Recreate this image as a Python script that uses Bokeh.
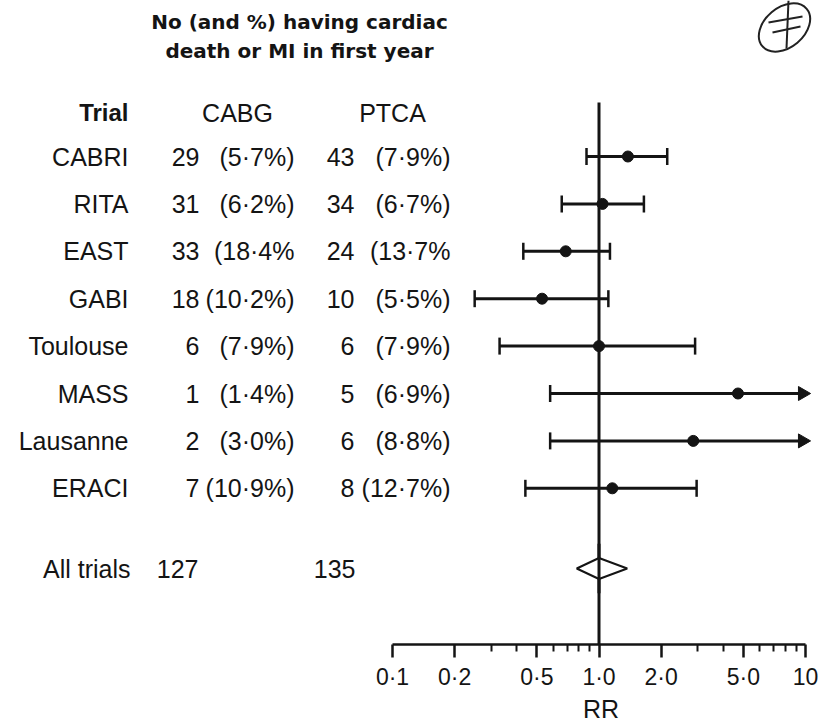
import numpy as np
from bokeh.plotting import figure
from bokeh.models import Range1d, LinearScale, FixedTicker, Title
from bokeh.core.properties import value
from bokeh.embed import file_html
from bokeh.resources import INLINE

# ---- data ----------------------------------------------------------------
trials = ["CABRI", "RITA", "EAST", "GABI", "Toulouse", "MASS", "Lausanne", "ERACI"]
cabg_n = [29, 31, 33, 18, 6, 1, 2, 7]
cabg_pct = ["(5·7%)", "(6·2%)", "(18·4%", "(10·2%)", "(7·9%)", "(1·4%)", "(3·0%)", "(10·9%)"]
ptca_n = [43, 34, 24, 10, 6, 5, 6, 8]
ptca_pct = ["(7·9%)", "(6·7%)", "(13·7%", "(5·5%)", "(7·9%)", "(6·9%)", "(8·8%)", "(12·7%)"]

# relative risk and 95% CI (upper limit off the scale for MASS and Lausanne)
rr = [1.38, 1.04, 0.69, 0.53, 1.00, 4.71, 2.86, 1.16]
rr_lo = [0.87, 0.66, 0.43, 0.25, 0.33, 0.58, 0.58, 0.44]
rr_hi = [2.14, 1.65, 1.13, 1.11, 2.92, np.inf, np.inf, 2.97]

all_label = "All trials"
all_cabg = 127
all_ptca = 135
pooled_rr = 1.00
pooled_lo = 0.78
pooled_hi = 1.37

tick_values = [0.1, 0.2, 0.5, 1, 2, 5, 10]
tick_labels = ["0·1", "0·2", "0·5", "1·0", "2·0", "5·0", "10"]
minor_values = [0.3, 0.4, 0.6, 0.7, 0.8, 0.9, 3, 4, 6, 7, 8, 9]

# ---- layout ---------------------------------------------------------------
W, H = 819, 725
FRAME_H = 644            # axis line sits at the bottom of the frame
X01, X10 = 392, 805      # pixel positions of RR = 0.1 and RR = 10
decade = (X10 - X01) / 2.0
row_top, row_step = 156.0, 47.4   # pixel centre of first row and row spacing

x_start = 0.1 * 10 ** (-X01 / decade)
x_end = 10 * 10 ** ((W - X10) / decade)
y_start = 1 + (FRAME_H - row_top) / row_step
y_end = 1 - row_top / row_step

ink = "#141414"
FONT_NAME = "Liberation Sans"
FONT = value(FONT_NAME)

p = figure(width=W, height=H, x_axis_type="log",
           x_range=Range1d(x_start, x_end), y_range=Range1d(y_start, y_end),
           output_backend="svg", toolbar_location=None,
           y_axis_location=None, min_border_left=0, min_border_right=0,
           min_border_top=0, min_border_bottom=H - FRAME_H)
p.extra_x_ranges = {"tab": Range1d(0, W)}
p.extra_x_scales = {"tab": LinearScale()}
p.extra_y_ranges = {"px": Range1d(FRAME_H, 0)}
p.extra_y_scales = {"px": LinearScale()}
p.outline_line_color = None
p.xgrid.visible = False
p.ygrid.visible = False
p.background_fill_color = "white"
p.border_fill_color = "white"

rows = np.arange(1, len(trials) + 1)
all_row = 1 + (568 - row_top) / row_step

# ---- text table -------------------------------------------------------------
def col_text(x, y, texts, align="right", size="25px", style="normal",
             font=FONT, xr="tab", yr="default"):
    p.text(x=[x] * len(texts), y=y, text=texts, text_align=align,
           text_baseline="middle", text_font=font, text_font_size=size,
           text_font_style=style, text_color=ink,
           x_range_name=xr, y_range_name=yr)

# title
col_text(299, [21, 50], ["No (and %) having cardiac", "death or MI in first year"],
         align="center", size="20px", style="bold", font=value("DejaVu Sans"),
         yr="px")
# headers
col_text(128, [112], ["Trial"], size="24px", style="bold", yr="px")
col_text(237, [112], ["CABG"], align="center", yr="px")
col_text(392, [112], ["PTCA"], align="center", yr="px")

col_text(128, rows, trials)
col_text(199, rows, [str(v) for v in cabg_n])
col_text(294, rows, cabg_pct)
col_text(354, rows, [str(v) for v in ptca_n])
col_text(450, rows, ptca_pct)

col_text(130, [all_row], [all_label])
col_text(198, [all_row], [str(all_cabg)])
col_text(355, [all_row], [str(all_ptca)])

# ---- forest plot ------------------------------------------------------------
# line of no effect
p.segment(x0=[1], x1=[1], y0=[1 + (102 - row_top) / row_step], y1=[y_start],
          line_color=ink, line_width=3)

arrow_x = 10 * 10 ** (-3 / decade)   # arrow head centre just past RR = 10
hi_arr = np.array(rr_hi, dtype=float)
open_end = ~np.isfinite(hi_arr)
hi_draw = np.where(open_end, arrow_x, hi_arr)

p.segment(x0=rr_lo, x1=hi_draw, y0=rows, y1=rows, line_color=ink, line_width=3)

cap = 8.5 / row_step
p.segment(x0=rr_lo, x1=rr_lo, y0=rows - cap, y1=rows + cap,
          line_color=ink, line_width=2.5)
closed = ~open_end
p.segment(x0=hi_arr[closed], x1=hi_arr[closed], y0=rows[closed] - cap,
          y1=rows[closed] + cap, line_color=ink, line_width=2.5)

p.scatter(x=rr, y=rows, size=11, marker="circle", fill_color=ink, line_color=ink)

p.scatter(x=[arrow_x] * int(open_end.sum()), y=rows[open_end], marker="triangle",
          size=14, angle=-np.pi / 2, fill_color=ink, line_color=ink)

# pooled estimate diamond
dh = 10.5 / row_step
p.patch(x=[pooled_lo, pooled_rr, pooled_hi, pooled_rr],
        y=[all_row, all_row - dh, all_row, all_row + dh],
        fill_color="white", line_color=ink, line_width=2)
p.segment(x0=[1], x1=[1], y0=[all_row - dh - 0.3], y1=[all_row + dh + 0.3],
          line_color=ink, line_width=3)

# ---- axis -------------------------------------------------------------------
ax = p.xaxis[0]
ax.ticker = FixedTicker(ticks=tick_values, minor_ticks=minor_values)
ax.major_label_overrides = {v: s for v, s in zip(tick_values, tick_labels)}
ax.bounds = (tick_values[0], tick_values[-1])
ax.axis_line_width = 2.5
ax.axis_line_color = ink
ax.major_tick_line_width = 2.5
ax.major_tick_line_color = ink
ax.minor_tick_line_width = 2
ax.minor_tick_line_color = ink
ax.major_tick_in = 0
ax.major_tick_out = 13
ax.minor_tick_in = 0
ax.minor_tick_out = 7
ax.major_label_standoff = 6
ax.major_label_text_font = FONT_NAME
ax.major_label_text_font_size = "23px"
ax.major_label_text_color = ink

# axis title, centred under RR = 1
p.add_layout(Title(text="RR", align="left", offset=X01 + decade - 16,
                   standoff=0, text_font=FONT_NAME, text_font_size="25px",
                   text_font_style="normal", text_color=ink), "below")

# ---- journal mark, top right -------------------------------------------------
p.ellipse(x=[784], y=[27], width=58, height=40, angle=0.7,
          fill_color=None, line_color="#222222", line_width=2,
          x_range_name="tab", y_range_name="px")
p.segment(x0=[788, 768, 772], x1=[786, 802, 800], y0=[0, 22, 32], y1=[48, 16, 26],
          line_color="#222222", line_width=2,
          x_range_name="tab", y_range_name="px")

open("out.html", "w").write(file_html(p, INLINE))
